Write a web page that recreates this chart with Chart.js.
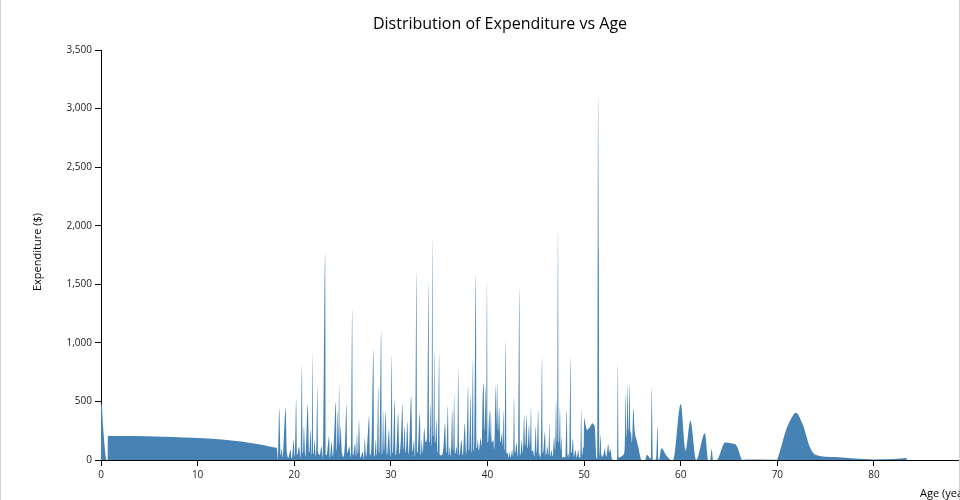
<!DOCTYPE html>
<html>
<head>
<meta charset="utf-8">
<script src="https://cdn.jsdelivr.net/npm/chart.js@4/dist/chart.umd.min.js"></script>
<style>
  html, body { margin: 0; padding: 0; background: #fff; }
  #wrap { width: 960px; height: 500px; position: relative; }
</style>
</head>
<body>
<div id="wrap"><canvas id="c" width="960" height="500"></canvas></div>
<script>
// Age (years) of each record, sorted
const ages = [
  0, 0.08, 0.2, 0.35, 0.5, 0.62, 0.69, 0.71, 2.5, 4.5, 6.5, 8.5, 10.5, 12.5, 14.5, 15.5, 16.5, 17.0, 17.6, 18.0, 18.2,
  18.3, 18.45, 18.6, 18.7, 18.8, 18.99, 19.1, 19.25, 19.4, 19.6, 19.75, 19.95, 20.05, 20.2, 20.3, 20.5,
  20.65, 20.8, 20.9, 21.0, 21.15, 21.4, 21.55, 21.7, 21.8, 21.9, 22.0, 22.1, 22.25, 22.4, 22.5, 22.65,
  22.8, 22.95, 23.2, 23.3, 23.4, 23.6, 23.7, 23.85, 24.0, 24.15, 24.3, 24.4, 24.5, 24.58, 24.65, 24.72,
  24.8, 24.95, 25.1, 25.25, 25.4, 25.5, 25.7, 25.85, 26.0, 26.1, 26.3, 26.4, 26.5, 26.6, 26.7, 26.85,
  27.1, 27.2, 27.3, 27.45, 27.6, 27.75, 27.85, 28.0, 28.2, 28.3, 28.45, 28.55, 28.7, 28.8, 29.0, 29.1,
  29.2, 29.3, 29.45, 29.6, 29.8, 29.95, 30.1, 30.2, 30.4, 30.5, 30.6, 30.75, 30.9, 31.05, 31.2, 31.3,
  31.4, 31.55, 31.7, 31.85, 32.1, 32.25, 32.4, 32.5, 32.65, 32.75, 33.0, 33.1, 33.2, 33.3, 33.45, 33.6,
  33.75, 33.9, 34.0, 34.1, 34.2, 34.3, 34.4, 34.5, 34.6, 34.7, 34.85, 35.0, 35.1, 35.3, 35.45, 35.6,
  35.75, 35.9, 36.0, 36.1, 36.2, 36.35, 36.45, 36.55, 36.65, 36.8, 36.9, 36.97, 37.1, 37.3, 37.45, 37.65,
  37.8, 38.0, 38.1, 38.25, 38.35, 38.5, 38.6, 38.8, 38.9, 39.0, 39.1, 39.3, 39.4, 39.5, 39.6, 39.7,
  39.8, 39.88, 39.95, 40.05, 40.2, 40.28, 40.35, 40.45, 40.6, 40.7, 40.85, 40.92, 41.0, 41.1, 41.2, 41.35,
  41.5, 41.55, 41.65, 41.75, 41.9, 42.0, 42.1, 42.2, 42.3, 42.4, 42.55, 42.65, 42.75, 42.85, 43.0, 43.15,
  43.3, 43.4, 43.55, 43.65, 43.8, 43.9, 44.05, 44.15, 44.3, 44.4, 44.5, 44.6, 44.7, 44.85, 45.0, 45.1,
  45.25, 45.35, 45.4, 45.5, 45.65, 45.75, 45.95, 46.05, 46.2, 46.3, 46.4, 46.5, 46.6, 46.75, 46.9, 47.0,
  47.1, 47.2, 47.3, 47.4, 47.5, 47.58, 47.65, 47.75, 47.9, 48.05, 48.2, 48.28, 48.35, 48.45, 48.6, 48.7,
  48.85, 48.95, 49.1, 49.25, 49.4, 49.5, 49.55, 49.62, 49.7, 49.8, 49.9, 49.95, 50.0, 50.15, 50.3, 50.5,
  50.7, 50.85, 51.0, 51.1, 51.3, 51.38, 51.45, 51.52, 51.58, 51.7, 51.8, 51.9, 52.05, 52.15, 52.25, 52.3,
  52.5, 52.6, 52.7, 52.9, 53.2, 53.4, 53.5, 53.6, 53.8, 54.05, 54.2, 54.3, 54.4, 54.5, 54.6, 54.7,
  54.78, 54.85, 54.95, 55.1, 55.25, 55.4, 55.6, 55.95, 56.3, 56.5, 56.6, 56.7, 56.9, 57.0, 57.15, 57.25,
  57.45, 57.6, 57.7, 57.75, 58.0, 58.5, 59.0, 59.2, 60.0, 60.5, 61.0, 61.6, 62.5, 62.85, 63.05, 63.2,
  63.35, 63.7, 64.6, 65.3, 65.8, 66.4, 66.8, 69.8, 69.9, 70.25, 70.9, 71.45, 71.9, 72.65, 73.35, 74.0,
  76, 78, 80, 82, 83.4
];
// Expenditure ($) for each record
const spend = [
  480, 470, 300, 140, 20, 0, 0, 205, 204, 202, 198, 193, 186, 175, 158, 146, 132, 124, 113, 106, 102,
  10, 441, 40, 100, 20, 313, 447, 60, 20, 85, 10, 170, 30, 521, 40, 114,
  20, 811, 60, 285, 30, 470, 60, 256, 40, 896, 50, 171, 30, 620, 60, 43,
  120, 20, 1767, 40, 57, 200, 20, 156, 30, 250, 498, 80, 427, 100, 640, 120,
  285, 60, 28, 150, 470, 60, 114, 20, 1290, 40, 142, 30, 228, 50, 341, 20,
  71, 10, 185, 30, 200, 375, 40, 150, 945, 30, 170, 40, 626, 60, 1095, 50,
  427, 80, 413, 40, 256, 30, 888, 60, 512, 40, 120, 398, 50, 200, 478, 90,
  285, 60, 327, 50, 546, 70, 171, 30, 1605, 60, 398, 40, 171, 60, 270, 150,
  200, 1510, 150, 484, 120, 1895, 200, 939, 150, 341, 60, 910, 40, 43, 120, 313,
  60, 466, 40, 114, 30, 427, 80, 555, 50, 114, 30, 768, 40, 171, 40, 313,
  50, 632, 80, 555, 60, 853, 80, 1580, 100, 171, 80, 185, 120, 540, 654, 250,
  632, 200, 1520, 150, 427, 200, 413, 150, 171, 90, 640, 300, 660, 250, 455, 150,
  228, 120, 427, 80, 1010, 60, 57, 20, 71, 20, 85, 30, 540, 60, 142, 30,
  1468, 40, 171, 60, 384, 120, 384, 100, 299, 120, 441, 70, 85, 30, 285, 60,
  427, 30, 57, 20, 882, 60, 242, 40, 114, 40, 313, 30, 85, 30, 199, 80,
  512, 150, 1946, 150, 455, 80, 199, 20, 28, 20, 427, 30, 57, 20, 882, 60,
  185, 30, 85, 20, 85, 20, 28, 10, 427, 40, 114, 100, 356, 300, 256, 270,
  295, 313, 300, 285, 14, 10, 3100, 1780, 30, 213, 40, 28, 60, 99, 40, 28,
  136, 60, 99, 6, 0, 0, 825, 20, 28, 43, 100, 569, 200, 640, 250, 647,
  250, 228, 150, 441, 242, 180, 114, 0, 0, 43, 40, 28, 10, 612, 5, 0,
  10, 285, 0, 0, 100, 40, 0, 0, 478, 80, 336, 0, 228, 0, 0, 94,
  0, 0, 150, 140, 120, 0, 5, 3, 0, 71, 256, 356, 404, 299, 114, 43,
  25, 12, 5, 8, 17
];
const xTicksMax = 88.8;
const yTicks = [0, 500, 1000, 1500, 2000, 2500, 3000, 3500];

const FONT = "'Open Sans', sans-serif";
const points = ages.map((a, i) => ({ x: a, y: spend[i] }));

const decor = {
  id: 'decor',
  afterDraw(chart) {
    const ctx = chart.ctx;
    ctx.save();
    // frame lines
    ctx.fillStyle = '#d0d0d0';
    ctx.fillRect(0, 0, 1, 500);
    ctx.fillRect(959, 0, 1, 500);
    // title
    ctx.fillStyle = '#000';
    ctx.font = '16px ' + FONT;
    ctx.textAlign = 'center';
    ctx.textBaseline = 'middle';
    ctx.fillText('Distribution of Expenditure vs Age', 500, 24);
    // x axis title
    ctx.font = '11px ' + FONT;
    ctx.textAlign = 'start';
    ctx.textBaseline = 'alphabetic';
    ctx.fillText('Age (years)', 920, 497);
    // y axis title
    ctx.translate(38, 252);
    ctx.rotate(-Math.PI / 2);
    ctx.textAlign = 'center';
    ctx.textBaseline = 'middle';
    ctx.fillText('Expenditure ($)', 0, 0);
    ctx.restore();
  }
};

new Chart(document.getElementById('c'), {
  type: 'line',
  data: {
    datasets: [{
      data: points,
      fill: 'origin',
      backgroundColor: '#4682b4',
      borderColor: 'rgba(70,130,180,0)',
      borderWidth: 0,
      pointRadius: 0,
      cubicInterpolationMode: 'monotone'
    }]
  },
  options: {
    responsive: false,
    animation: false,
    devicePixelRatio: 1,
    layout: { padding: { left: 0, top: 50, right: 1, bottom: 0 } },
    plugins: { legend: { display: false }, tooltip: { enabled: false }, title: { display: false } },
    scales: {
      x: {
        type: 'linear',
        min: 0,
        max: xTicksMax,
        afterFit(s) { s.height = 40; },
        ticks: { stepSize: 10, includeBounds: false, color: '#222', font: { family: FONT, size: 10 }, padding: 3, maxRotation: 0 },
        grid: { drawOnChartArea: false, drawTicks: true, tickLength: 6, tickColor: '#000' },
        border: { display: true, color: '#000', width: 1 }
      },
      y: {
        type: 'linear',
        min: 0,
        max: 3500,
        afterFit(s) { s.width = 101; },
        afterBuildTicks(s) { s.ticks = yTicks.map(v => ({ value: v })); },
        ticks: { color: '#222', font: { family: FONT, size: 10 }, padding: 3,
                 callback: v => v.toLocaleString('en-US') },
        grid: { drawOnChartArea: false, drawTicks: true, tickLength: 6, tickColor: '#000' },
        border: { display: true, color: '#000', width: 1 }
      }
    }
  },
  plugins: [decor]
});
</script>
</body>
</html>
